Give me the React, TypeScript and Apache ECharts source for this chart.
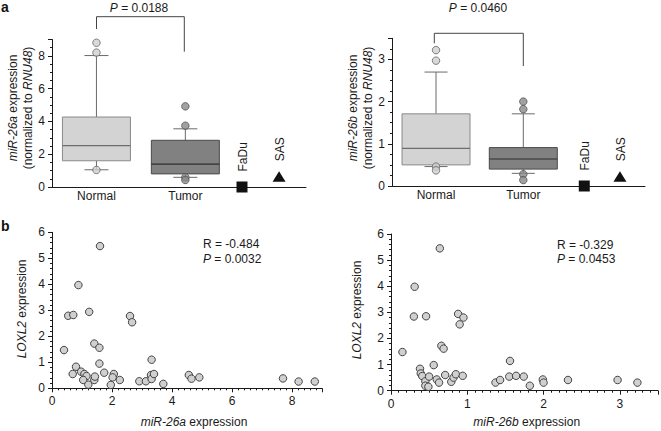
import React, { useEffect, useRef } from 'react';
import * as echarts from 'echarts';

// ---------- data ----------
const boxCategories = ['Normal', 'Tumor'];
const cellLines = ['FaDu', 'SAS'];
// box stats: [lower whisker, Q1, median, Q3, upper whisker]
const mir26aNormalBox = [1.05, 1.6, 2.52, 4.27, 8.02];
const mir26aTumorBox = [0.59, 0.8, 1.4, 2.85, 3.55];
const mir26aNormalOutliers = [8.8, 8.2, 1.04];
const mir26aTumorOutliers = [4.92, 3.74, 0.59, 0.43];
const mir26aCellLineValues = [0, 0.62];

const mir26bNormalBox = [0.46, 0.5, 0.89, 1.71, 2.7];
const mir26bTumorBox = [0.3, 0.4, 0.64, 0.91, 1.71];
const mir26bNormalOutliers = [3.22, 2.97, 0.46, 0.37];
const mir26bTumorOutliers = [2.0, 1.82, 0.28, 0.14];
const mir26bCellLineValues = [0, 0.22];

// scatter: miR-26a vs LOXL2
const mir26aExpr = [1.6, 0.88, 0.54, 0.71, 1.24, 2.6, 2.67, 0.4, 1.41, 1.58, 1.58, 3.32, 0.8, 0.69, 0.97, 1.08, 1.15, 1.04, 1.21, 1.41, 1.43, 1.74, 2.06, 2.02, 1.96, 2.26, 2.91, 3.13, 3.3, 3.32, 3.4, 3.71, 4.56, 4.65, 4.91, 7.7, 8.22, 8.76];
const loxl2VsMir26a = [5.47, 3.97, 2.79, 2.82, 2.94, 2.78, 2.54, 1.47, 1.72, 1.56, 0.95, 1.1, 0.83, 0.55, 0.64, 0.55, 0.47, 0.32, 0.14, 0.32, 0.45, 0.6, 0.55, 0.42, 0.13, 0.32, 0.27, 0.27, 0.51, 0.36, 0.55, 0.17, 0.51, 0.37, 0.42, 0.38, 0.26, 0.26];

// scatter: miR-26b vs LOXL2
const mir26bExpr = [0.64, 0.31, 0.3, 0.46, 0.88, 0.95, 0.9, 0.66, 0.69, 0.15, 1.56, 0.56, 0.38, 0.39, 0.41, 0.45, 0.5, 0.45, 0.49, 0.6, 0.63, 0.71, 0.79, 0.82, 0.85, 0.94, 1.37, 1.43, 1.55, 1.64, 1.74, 1.82, 1.99, 2.0, 2.32, 2.97, 3.23];
const loxl2VsMir26b = [5.45, 3.98, 2.84, 2.85, 2.94, 2.8, 2.54, 1.72, 1.61, 1.48, 1.14, 0.98, 0.84, 0.66, 0.56, 0.36, 0.54, 0.19, 0.15, 0.43, 0.31, 0.6, 0.34, 0.5, 0.63, 0.57, 0.31, 0.41, 0.54, 0.57, 0.54, 0.19, 0.43, 0.31, 0.41, 0.41, 0.31];

const statsA = ['-0.484', '0.0032'];
const statsB = ['-0.329', '0.0453'];
const pTop = ['0.0188', '0.0460'];

// ---------- styling / layout ----------
const FONT = '"Liberation Sans", Arial, Helvetica, sans-serif';
const INK = '#1a1a1a';
const boxStyles = [
  { fill: '#d3d3d3', stroke: '#8a8a8a', median: '#6e6e6e', whisker: '#6a6a6a' },
  { fill: '#818181', stroke: '#4a4a4a', median: '#2e2e2e', whisker: '#6a6a6a' },
];
const outlierStyles = [
  { color: '#cfcfcf', borderColor: '#666' },
  { color: '#8a8a8a', borderColor: '#555' },
];

function isMultiple(v: number, step: number) {
  const r = v / step;
  return Math.abs(r - Math.round(r)) < 1e-6;
}

function valueAxis(gridIndex: number, max: number, interval: number, minorSplit: number, showLabels: boolean, showTicks: boolean) {
  return {
    type: 'value',
    gridIndex,
    min: 0,
    max,
    interval,
    axisLine: { show: true, onZero: false, lineStyle: { color: INK, width: 1 } },
    axisTick: { show: showTicks, length: 4, lineStyle: { color: INK, width: 1 } },
    minorTick: { show: showTicks, splitNumber: minorSplit, length: 2, lineStyle: { color: INK, width: 1 } },
    splitLine: { show: false },
    minorSplitLine: { show: false },
    axisLabel: {
      show: showLabels,
      fontSize: 12,
      color: INK,
      fontFamily: FONT,
      margin: 7,
      formatter: (v: number) => (isMultiple(v, interval) ? String(v) : ''),
    },
  };
}

function boxRender(xs: number[], halfW: number, capW: number) {
  return (params: any, api: any) => {
    const i = params.dataIndex;
    const x = xs[i];
    const st = boxStyles[i];
    const cx = api.coord([x, 0])[0];
    const y0 = api.coord([x, 0])[1];
    const yLo = api.coord([x, api.value(1)])[1];
    const yQ1 = api.coord([x, api.value(2)])[1];
    const yMd = api.coord([x, api.value(3)])[1];
    const yQ3 = api.coord([x, api.value(4)])[1];
    const yHi = api.coord([x, api.value(5)])[1];
    const ws = { stroke: st.whisker, lineWidth: 1, fill: null };
    return {
      type: 'group',
      children: [
        { type: 'line', shape: { x1: cx, y1: yHi, x2: cx, y2: yQ3 }, style: ws },
        { type: 'line', shape: { x1: cx - capW, y1: yHi, x2: cx + capW, y2: yHi }, style: ws },
        { type: 'line', shape: { x1: cx, y1: yLo, x2: cx, y2: yQ1 }, style: ws },
        { type: 'line', shape: { x1: cx - capW, y1: yLo, x2: cx + capW, y2: yLo }, style: ws },
        {
          type: 'rect',
          shape: { x: cx - halfW, y: yQ3, width: halfW * 2, height: yQ1 - yQ3 },
          style: { fill: st.fill, stroke: st.stroke, lineWidth: 1 },
        },
        { type: 'line', shape: { x1: cx - halfW, y1: yMd, x2: cx + halfW, y2: yMd }, style: { stroke: st.median, lineWidth: 1.2 } },
        {
          type: 'text',
          x: cx,
          y: y0 + 3,
          style: { text: boxCategories[i], fill: INK, font: `12px ${FONT}`, align: 'center', verticalAlign: 'top' },
        },
      ],
    };
  };
}

function cellRender(xs: number[]) {
  return (params: any, api: any) => {
    const i = params.dataIndex;
    const [cx, cy] = api.coord([xs[i], api.value(1)]);
    const children: any[] = [];
    let top: number;
    if (i === 0) {
      const s = 11;
      children.push({ type: 'rect', shape: { x: cx - s / 2, y: cy - s / 2, width: s, height: s }, style: { fill: '#111' } });
      top = cy - s / 2;
    } else {
      children.push({
        type: 'polygon',
        shape: { points: [[cx, cy - 5.5], [cx - 6.5, cy + 5], [cx + 6.5, cy + 5]] },
        style: { fill: '#111' },
      });
      top = cy - 5.5;
    }
    children.push({
      type: 'text',
      x: cx + 1,
      y: top - 10,
      rotation: Math.PI / 2,
      style: { text: cellLines[i], fill: INK, font: `12px ${FONT}`, align: 'left', verticalAlign: 'middle' },
    });
    return { type: 'group', children };
  };
}

function vText(x: number, y: number, text: string, size = 12) {
  return {
    type: 'text',
    x,
    y,
    rotation: Math.PI / 2,
    style: {
      text,
      fill: INK,
      font: `${size}px ${FONT}`,
      align: 'center',
      verticalAlign: 'middle',
      rich: { i: { fontStyle: 'italic', fontSize: size, fontFamily: FONT, fill: INK } },
    },
  };
}

function hText(x: number, y: number, text: string, align = 'center', size = 12) {
  return {
    type: 'text',
    x,
    y,
    style: {
      text,
      fill: INK,
      font: `${size}px ${FONT}`,
      align,
      verticalAlign: 'middle',
      rich: { i: { fontStyle: 'italic', fontSize: size, fontFamily: FONT, fill: INK } },
    },
  };
}

function bracket(points: number[][]) {
  return { type: 'polyline', shape: { points }, style: { stroke: '#444', lineWidth: 1, fill: null } };
}

export default function App() {
  const ref = useRef<HTMLDivElement>(null);

  useEffect(() => {
    if (!ref.current) return;
    const chart = echarts.init(ref.current, null, { renderer: 'svg' });

    const posA = [17.5, 52.5, 74.8, 89.4];
    const posB = [17.4, 51.9, 76.0, 90.1];

    const boxData = (pos: number[], boxes: number[][]) => boxes.map((b, i) => [pos[i], ...b]);
    const outliers = (x: number, vals: number[]) => vals.map((v) => [x, v]);
    const pairs = (xs: number[], ys: number[]) => xs.map((v, i) => [v, ys[i]]);

    const outlierSeries = (xi: number, x: number, vals: number[], k: number) => ({
      type: 'scatter',
      xAxisIndex: xi,
      yAxisIndex: xi,
      symbol: 'circle',
      symbolSize: 7.5,
      data: outliers(x, vals),
      itemStyle: { color: outlierStyles[k].color, borderColor: outlierStyles[k].borderColor, borderWidth: 1 },
      silent: true,
      z: 3,
    });

    const option: any = {
      animation: false,
      backgroundColor: '#fff',
      grid: [
        { left: 52, top: 39.5, width: 254, height: 147.5 },
        { left: 392, top: 38.3, width: 253, height: 147.7 },
        { left: 52, top: 232.3, width: 270, height: 156 },
        { left: 391, top: 234, width: 270, height: 156.7 },
      ],
      xAxis: [
        valueAxis(0, 100, 10, 1, false, false),
        valueAxis(1, 100, 10, 1, false, false),
        valueAxis(2, 9, 2, 10, true, true),
        valueAxis(3, 3.5, 1, 10, true, true),
      ],
      yAxis: [
        valueAxis(0, 9, 2, 4, true, true),
        valueAxis(1, 3.5, 1, 4, true, true),
        valueAxis(2, 6, 1, 5, true, true),
        valueAxis(3, 6, 1, 5, true, true),
      ],
      series: [
        {
          type: 'custom',
          xAxisIndex: 0,
          yAxisIndex: 0,
          renderItem: boxRender(posA, 34, 12),
          encode: { x: 0, y: [1, 2, 3, 4, 5] },
          data: boxData(posA, [mir26aNormalBox, mir26aTumorBox]),
          z: 2,
        },
        outlierSeries(0, posA[0], mir26aNormalOutliers, 0),
        outlierSeries(0, posA[1], mir26aTumorOutliers, 1),
        {
          type: 'custom',
          xAxisIndex: 0,
          yAxisIndex: 0,
          renderItem: cellRender(posA.slice(2)),
          encode: { x: 0, y: 1 },
          data: mir26aCellLineValues.map((v, i) => [posA[2 + i], v]),
          z: 4,
        },
        {
          type: 'custom',
          xAxisIndex: 1,
          yAxisIndex: 1,
          renderItem: boxRender(posB, 34, 11.5),
          encode: { x: 0, y: [1, 2, 3, 4, 5] },
          data: boxData(posB, [mir26bNormalBox, mir26bTumorBox]),
          z: 2,
        },
        outlierSeries(1, posB[0], mir26bNormalOutliers, 0),
        outlierSeries(1, posB[1], mir26bTumorOutliers, 1),
        {
          type: 'custom',
          xAxisIndex: 1,
          yAxisIndex: 1,
          renderItem: cellRender(posB.slice(2)),
          encode: { x: 0, y: 1 },
          data: mir26bCellLineValues.map((v, i) => [posB[2 + i], v]),
          z: 4,
        },
        {
          type: 'scatter',
          xAxisIndex: 2,
          yAxisIndex: 2,
          symbol: 'circle',
          symbolSize: 7.5,
          data: pairs(mir26aExpr, loxl2VsMir26a),
          itemStyle: { color: '#d0d0d0', borderColor: '#333', borderWidth: 0.9, opacity: 1 },
        },
        {
          type: 'scatter',
          xAxisIndex: 3,
          yAxisIndex: 3,
          symbol: 'circle',
          symbolSize: 7.5,
          data: pairs(mir26bExpr, loxl2VsMir26b),
          itemStyle: { color: '#d0d0d0', borderColor: '#333', borderWidth: 0.9, opacity: 1 },
        },
      ],
      graphic: [
        { type: 'text', x: 1, y: 0, style: { text: 'a', fill: '#111', font: `bold 14px ${FONT}`, align: 'left', verticalAlign: 'top' } },
        { type: 'text', x: 1, y: 226, style: { text: 'b', fill: '#111', font: `bold 14px ${FONT}`, align: 'left', verticalAlign: 'middle' } },
        // p-value brackets
        bracket([[96.5, 29], [96.5, 16.7], [184.3, 16.7], [184.3, 51.7]]),
        hText(139, 7.5, `{i|P} = ${pTop[0]}`),
        bracket([[434.3, 43.3], [434.3, 33.3], [523.3, 33.3], [523.3, 66]]),
        hText(478, 7.5, `{i|P} = ${pTop[1]}`),
        // y-axis titles (top)
        vText(13, 108, '{i|miR-26a} expression'),
        vText(28, 108, '(normalized to {i|RNU48})'),
        vText(353, 108, '{i|miR-26b} expression'),
        vText(368, 108, '(normalized to {i|RNU48})'),
        // bottom axis titles
        vText(22, 309, '{i|LOXL2} expression'),
        vText(357, 310, '{i|LOXL2} expression'),
        hText(194, 421.7, '{i|miR-26a} expression'),
        hText(526.7, 421.7, '{i|miR-26b} expression'),
        // correlation stats
        hText(203, 244, `R = ${statsA[0]}`, 'left'),
        hText(203, 259, `{i|P} = ${statsA[1]}`, 'left'),
        hText(557, 245, `R = ${statsB[0]}`, 'left'),
        hText(557, 259, `{i|P} = ${statsB[1]}`, 'left'),
      ],
    };

    chart.setOption(option);
    return () => chart.dispose();
  }, []);

  return (
    <div
      ref={ref}
      style={{ position: 'fixed', left: 0, top: 0, width: 661, height: 431, background: '#fff' }}
    />
  );
}
